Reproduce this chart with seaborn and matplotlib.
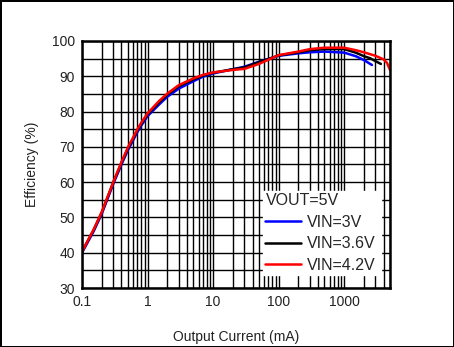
import numpy as np
import pandas as pd
import matplotlib
matplotlib.use("Agg")
import matplotlib.pyplot as plt
from matplotlib.ticker import LogLocator, MultipleLocator, FixedLocator, NullFormatter
import seaborn as sns

# ---- data ----
x_vin3 = [0.1, 0.15, 0.2, 0.3, 0.4, 0.5, 0.6, 0.7, 0.8, 1, 1.5, 2, 3, 5, 7, 10, 20, 30, 50,
          100, 200, 300, 500, 1000, 1500, 2000, 2650]
y_vin3 = [40.0, 46.0, 51.0, 59.5, 65.0, 69.0, 71.8, 74.2, 76.0, 78.7, 82.0, 84.2, 86.5, 88.6, 89.9,
          90.8, 92.0, 92.7, 94.1, 95.8, 96.5, 96.8, 97.0, 96.7, 95.7, 94.6, 93.2]

x_vin36 = [0.1, 0.15, 0.2, 0.3, 0.4, 0.5, 0.6, 0.7, 0.8, 1, 1.5, 2, 3, 5, 7, 10, 20, 30, 50,
           100, 200, 300, 500, 1000, 1500, 2000, 2500, 3000, 3630]
y_vin36 = [40.3, 46.4, 51.4, 59.9, 65.5, 69.5, 72.3, 74.7, 76.5, 79.2, 82.6, 84.8, 87.2, 89.1, 90.2,
           91.0, 92.0, 92.5, 94.0, 95.9, 96.8, 97.4, 97.7, 97.7, 96.7, 95.7, 95.1, 94.3, 93.5]

x_vin42 = [0.1, 0.15, 0.2, 0.3, 0.4, 0.5, 0.6, 0.7, 0.8, 1, 1.5, 2, 3, 5, 7, 10, 20, 30, 50,
           100, 200, 300, 500, 1000, 1500, 2000, 3000, 4000, 4500, 5000]
y_vin42 = [40.3, 46.5, 51.5, 60.0, 65.7, 69.8, 72.6, 75.0, 76.8, 79.5, 83.0, 85.1, 87.5, 89.4, 90.4,
           91.1, 91.8, 92.1, 93.5, 96.0, 97.0, 97.7, 98.1, 98.1, 97.4, 96.8, 95.8, 94.8, 93.8, 91.8]

series_labels = ["VIN=3V", "VIN=3.6V", "VIN=4.2V"]
series_colors = ["#0000ff", "#000000", "#ff0000"]
legend_title = "VOUT=5V"
x_ticks = [0.1, 1, 10, 100, 1000]
x_ticklabels = ["0.1", "1", "10", "100", "1000"]
y_ticks = [30, 40, 50, 60, 70, 80, 90, 100]
x_label = "Output Current (mA)"
y_label = "Efficiency (%)"

df = pd.concat([
    pd.DataFrame({"current": x_vin3, "eff": y_vin3, "vin": series_labels[0]}),
    pd.DataFrame({"current": x_vin36, "eff": y_vin36, "vin": series_labels[1]}),
    pd.DataFrame({"current": x_vin42, "eff": y_vin42, "vin": series_labels[2]}),
], ignore_index=True)

sns.set_style("white")
plt.rcParams["font.family"] = ["Liberation Sans", "DejaVu Sans"]

fig = plt.figure(figsize=(4.54, 3.47), dpi=100)
fig.patch.set_edgecolor("black")
fig.patch.set_linewidth(2)
ax = fig.add_axes([82 / 454, 1 - 288 / 347, 308 / 454, 247 / 347])

sns.lineplot(data=df, x="current", y="eff", hue="vin", hue_order=series_labels,
             palette=dict(zip(series_labels, series_colors)), estimator=None,
             sort=True, linewidth=1.8, ax=ax, zorder=3)

ax.set_xscale("log")
ax.set_xlim(0.1, 5000)
ax.set_ylim(30, 100)
ax.xaxis.set_major_locator(FixedLocator(x_ticks))
ax.set_xticklabels(x_ticklabels)
ax.xaxis.set_minor_locator(LogLocator(base=10, subs=range(2, 10), numticks=20))
ax.xaxis.set_minor_formatter(NullFormatter())
ax.yaxis.set_major_locator(FixedLocator(y_ticks))
ax.yaxis.set_minor_locator(MultipleLocator(5))
ax.grid(which="both", color="black", linewidth=1.0)
ax.tick_params(which="both", length=0, labelsize=10, colors="#222222", pad=5)
for s in ax.spines.values():
    s.set_color("black")
    s.set_linewidth(1.8)
    s.set_zorder(5)

ax.set_xlabel(x_label, fontsize=10, color="#222222", labelpad=15)
ax.set_ylabel(y_label, fontsize=10, color="#222222", labelpad=9)

handles, labels = ax.get_legend_handles_labels()
leg = ax.legend(handles, labels, title=legend_title, loc="lower left",
                bbox_to_anchor=(0.588, 0.053, 0.383, 0.41), mode="expand",
                frameon=True, fancybox=False, framealpha=1, edgecolor="white",
                facecolor="white", fontsize=11.5, title_fontsize=11.5,
                alignment="left", handlelength=2.2, handletextpad=0.4,
                borderpad=0.15, labelspacing=0.4, borderaxespad=0)
for h in leg.get_lines():
    h.set_linewidth(1.8)
leg.set_zorder(10)

fig.savefig("out.png", dpi=100)
